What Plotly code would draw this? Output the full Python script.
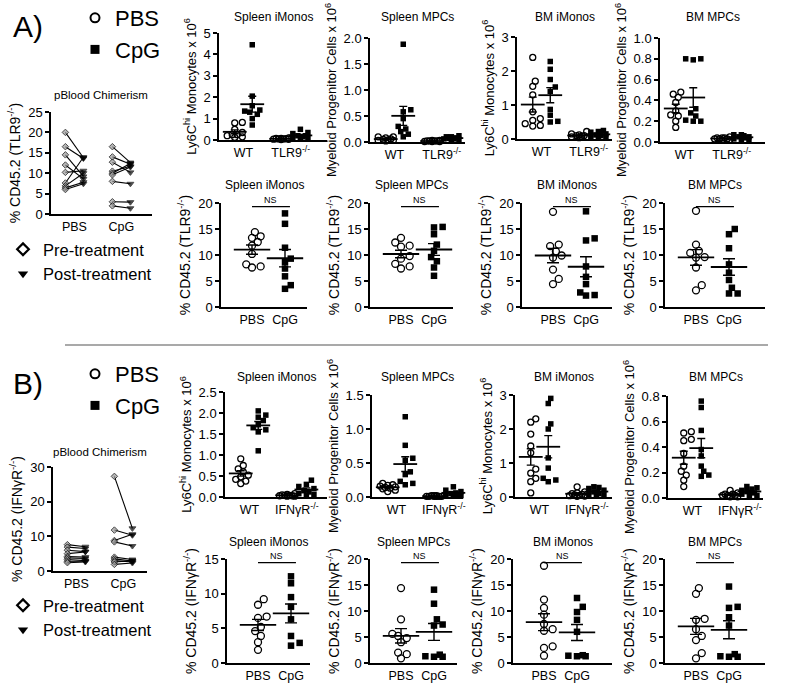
import numpy as np
import plotly.graph_objects as go

# ----------------------------- DATA -----------------------------
# Panel A (TLR9-/- chimeras) - absolute numbers (x 10^6)
A_spI_wt_pbs = [0.82, 0.80, 0.50, 0.35, 0.25, 0.20, 0.15, 0.12, 0.25]
A_spI_wt_cpg = [4.45, 2.05, 1.60, 1.40, 1.30, 1.20, 1.00, 0.70, 1.35]
A_spI_ko_pbs = [0.10, 0.08, 0.06, 0.05, 0.04, 0.03, 0.05, 0.07, 0.02]
A_spI_ko_cpg = [0.50, 0.35, 0.30, 0.20, 0.15, 0.10, 0.08, 0.05, 0.20]

A_spM_wt_pbs = [0.10, 0.10, 0.08, 0.05, 0.04, 0.03, 0.02, 0.06, 0.03]
A_spM_wt_cpg = [1.88, 0.62, 0.58, 0.45, 0.30, 0.25, 0.20, 0.15, 0.10]
A_spM_ko_pbs = [0.03, 0.02, 0.02, 0.01, 0.01, 0.02, 0.03, 0.01, 0.02]
A_spM_ko_cpg = [0.12, 0.10, 0.10, 0.08, 0.07, 0.06, 0.05, 0.04, 0.06]

A_bmI_wt_pbs = [2.40, 1.70, 1.55, 1.30, 0.80, 0.60, 0.55, 0.45, 0.40, 0.38]
A_bmI_wt_cpg = [2.28, 2.05, 1.75, 1.53, 1.40, 0.87, 0.70, 0.52, 0.50]
A_bmI_ko_pbs = [0.22, 0.15, 0.12, 0.10, 0.08, 0.06, 0.05, 0.04, 0.10]
A_bmI_ko_cpg = [0.25, 0.22, 0.20, 0.15, 0.12, 0.08, 0.06, 0.05, 0.10]

A_bmM_wt_pbs = [0.48, 0.46, 0.43, 0.38, 0.30, 0.26, 0.25, 0.20, 0.14]
A_bmM_wt_cpg = [0.80, 0.80, 0.79, 0.32, 0.28, 0.25, 0.21, 0.20, 0.20]
A_bmM_ko_pbs = [0.05, 0.04, 0.04, 0.03, 0.03, 0.02, 0.02, 0.03, 0.04]
A_bmM_ko_cpg = [0.07, 0.07, 0.06, 0.05, 0.04, 0.03, 0.02, 0.02, 0.05]

# Panel A - % CD45.2 chimerism
A_cSpI_pbs = [14.4, 13.6, 13.3, 12.5, 11.8, 10.2, 8.2, 7.8, 7.6]
A_cSpI_cpg = [18.0, 16.0, 11.4, 9.3, 8.7, 7.4, 5.9, 4.2, 3.5]
A_cSpM_pbs = [13.3, 12.4, 11.8, 11.6, 9.8, 9.3, 8.3, 7.8, 7.4]
A_cSpM_cpg = [15.4, 15.3, 14.0, 12.0, 10.8, 9.6, 8.8, 7.6, 6.0]
A_cBmI_pbs = [18.3, 12.0, 11.7, 10.7, 9.9, 9.5, 7.2, 5.4, 4.4]
A_cBmI_cpg = [18.4, 13.2, 12.8, 7.8, 5.8, 4.4, 2.8, 2.3, 2.2]
A_cBmM_pbs = [18.5, 12.0, 10.8, 10.4, 9.6, 9.5, 7.6, 4.2, 3.2]
A_cBmM_cpg = [15.0, 14.0, 11.3, 8.2, 6.6, 5.2, 3.7, 2.6, 2.6]

# Panel A - peripheral blood chimerism (pre -> post)
A_pb_pbs_pre = [20.0, 16.5, 14.5, 12.0, 10.2, 7.6, 6.9, 6.4, 6.0]
A_pb_pbs_post = [13.8, 13.6, 9.2, 8.6, 10.6, 13.9, 10.0, 7.8, 7.4]
A_pb_cpg_pre = [16.5, 14.0, 12.7, 10.5, 10.0, 9.6, 8.0, 3.0, 2.0]
A_pb_cpg_post = [12.6, 12.2, 10.2, 11.7, 12.4, 11.5, 7.4, 2.9, 1.4]

# Panel B (IFNgR-/- chimeras) - absolute numbers (x 10^6)
B_spI_wt_pbs = [0.91, 0.75, 0.67, 0.60, 0.52, 0.48, 0.42, 0.38, 0.32]
B_spI_wt_cpg = [2.05, 1.95, 1.90, 1.82, 1.72, 1.65, 1.60, 1.55, 1.10]
B_spI_ko_pbs = [0.08, 0.06, 0.05, 0.04, 0.04, 0.03, 0.03, 0.02, 0.02]
B_spI_ko_cpg = [0.40, 0.30, 0.25, 0.20, 0.15, 0.12, 0.08, 0.06, 0.04]

B_spM_wt_pbs = [0.20, 0.18, 0.17, 0.16, 0.15, 0.14, 0.13, 0.12, 0.10, 0.08]
B_spM_wt_cpg = [1.18, 0.76, 0.57, 0.54, 0.37, 0.33, 0.23, 0.20, 0.18]
B_spM_ko_pbs = [0.02, 0.02, 0.01, 0.01, 0.01, 0.02, 0.01, 0.01, 0.01]
B_spM_ko_cpg = [0.15, 0.10, 0.08, 0.06, 0.05, 0.04, 0.03, 0.02, 0.02]

B_bmI_wt_pbs = [2.30, 2.20, 1.85, 1.50, 1.30, 0.82, 0.70, 0.55, 0.45, 0.12]
B_bmI_wt_cpg = [2.90, 2.75, 2.15, 2.00, 1.15, 0.85, 0.55, 0.50, 0.45]
B_bmI_ko_pbs = [0.30, 0.15, 0.12, 0.10, 0.08, 0.06, 0.05, 0.04, 0.03, 0.02]
B_bmI_ko_cpg = [0.30, 0.28, 0.25, 0.20, 0.15, 0.10, 0.08, 0.05, 0.03]

B_bmM_wt_pbs = [0.52, 0.51, 0.46, 0.45, 0.35, 0.25, 0.21, 0.18, 0.14, 0.09]
B_bmM_wt_cpg = [0.76, 0.71, 0.53, 0.38, 0.33, 0.25, 0.21, 0.18, 0.17]
B_bmM_ko_pbs = [0.06, 0.04, 0.03, 0.03, 0.02, 0.02, 0.02, 0.01, 0.01]
B_bmM_ko_cpg = [0.09, 0.08, 0.07, 0.06, 0.05, 0.04, 0.03, 0.02, 0.02]

# Panel B - % CD45.2 chimerism
B_cSpI_pbs = [9.2, 8.4, 6.7, 6.5, 5.2, 4.6, 3.9, 3.0, 1.9]
B_cSpI_cpg = [12.5, 11.5, 9.5, 8.1, 6.3, 3.9, 2.9, 2.5]
B_cSpM_pbs = [14.4, 8.4, 5.6, 5.2, 4.8, 4.0, 2.0, 1.7, 0.9]
B_cSpM_cpg = [14.1, 11.4, 8.4, 7.4, 7.2, 1.6, 1.3, 1.2, 1.2]
B_cBmI_pbs = [18.7, 12.2, 10.6, 9.3, 7.5, 6.5, 6.2, 3.2, 2.9, 1.4]
B_cBmI_cpg = [12.5, 10.8, 9.8, 8.3, 6.0, 1.4, 1.3, 1.3, 1.5]
B_cBmM_pbs = [14.4, 13.3, 8.5, 8.3, 6.5, 5.2, 4.4, 1.9, 0.9]
B_cBmM_cpg = [14.7, 10.8, 10.6, 8.8, 7.2, 1.7, 1.3, 1.2, 1.2]

# Panel B - peripheral blood chimerism (pre -> post)
B_pb_pbs_pre = [7.6, 6.9, 6.0, 5.0, 4.2, 3.8, 3.3, 2.8, 2.4]
B_pb_pbs_post = [7.0, 6.5, 5.6, 5.5, 4.0, 3.6, 3.0, 2.8, 2.6]
B_pb_cpg_pre = [27.3, 11.8, 8.8, 8.4, 4.0, 3.5, 3.0, 2.6, 1.9]
B_pb_cpg_post = [12.3, 10.3, 10.6, 7.2, 3.3, 2.9, 2.6, 3.0, 2.3]

# Labels
TREAT = ["PBS", "CpG"]
KO_A = "TLR9<sup>-/-</sup>"
KO_B = "IFNγR<sup>-/-</sup>"
LY = "Ly6C<sup>hi</sup> Monocytes x 10<sup>6</sup>"
MP = "Myeloid Progenitor Cells x 10<sup>6</sup>"
CD_A = "% CD45.2 (TLR9<sup>-/-</sup>)"
CD_B = "% CD45.2 (IFNγR<sup>-/-</sup>)"

# ----------------------------- LAYOUT -----------------------------
W, H = 800, 687
FONT = "Arial, Liberation Sans, sans-serif"
fig = go.Figure()
layout = dict(width=W, height=H, margin=dict(l=0, r=0, t=0, b=0, autoexpand=False),
              paper_bgcolor="white", plot_bgcolor="white",
              font=dict(family=FONT, color="black"), showlegend=True)
annotations, shapes = [], []


def px_x(v):
    return v / W


def px_y(v):
    return 1 - v / H


def swarm(vals, ppy, ppx, d, step=0.36, kmax=3, thr=0.8):
    vals = np.asarray(vals, float)
    order = np.argsort(vals)
    cands = [0.0]
    for k in range(1, kmax + 1):
        cands += [k * step * d, -k * step * d]
    placed, offs = [], np.zeros(len(vals))
    for i in order:
        y = vals[i] * ppy
        best, best_d = None, -1.0
        for c in cands:
            md = min([np.hypot(c - px, y - py) for px, py in placed] or [1e9])
            if md >= thr * d:
                best = c
                break
            if md > best_d:
                best, best_d = c, md
        placed.append((best, y))
        offs[i] = best / ppx
    return offs


def make_axes(i, box, ymax, yticks, fmt, xr, xtv, xtt, ytitle, ytfs):
    x0, x1, yt, yb = box
    xa = "xaxis" if i == 1 else f"xaxis{i}"
    ya = "yaxis" if i == 1 else f"yaxis{i}"
    xr_ = "x" if i == 1 else f"x{i}"
    yr_ = "y" if i == 1 else f"y{i}"
    layout[xa] = dict(domain=[px_x(x0), px_x(x1)], range=xr, anchor=yr_,
                      showline=True, linecolor="black", linewidth=1.5,
                      showgrid=False, zeroline=False, ticks="",
                      tickvals=xtv, ticktext=xtt,
                      tickfont=dict(size=12.5, family=FONT, color="black"),
                      fixedrange=True)
    yd = dict(domain=[px_y(yb), px_y(yt)], range=[0, ymax], anchor=xr_,
              showline=True, linecolor="black", linewidth=1.5,
              showgrid=False, zeroline=False, ticks="outside", ticklen=4,
              tickwidth=1.5, tickcolor="black", tickvals=yticks,
              tickfont=dict(size=13, family=FONT, color="black"),
              title=dict(text=ytitle, font=dict(size=ytfs, family=FONT, color="black"),
                         standoff=4),
              fixedrange=True)
    if fmt:
        yd["tickformat"] = fmt
    layout[ya] = yd
    return xr_, yr_


def add_title(text, box, ty, size=12):
    x0, x1, _, _ = box
    annotations.append(dict(text=text, x=px_x((x0 + x1) / 2), y=px_y(ty),
                            xref="paper", yref="paper", showarrow=False,
                            xanchor="center", yanchor="middle",
                            font=dict(size=size, family=FONT, color="black")))


def add_group(xr_, yr_, vals, xc, box, ymax, xrange_, pbs, msize, mean_w, cap_w):
    x0, x1, yt, yb = box
    ppy = (yb - yt) / ymax
    ppx = (x1 - x0) / (xrange_[1] - xrange_[0])
    offs = swarm(vals, ppy, ppx, msize + 1)
    if pbs:
        mk = dict(symbol="circle-open", size=msize, color="black", line=dict(width=1.3, color="black"))
    else:
        mk = dict(symbol="square", size=msize - 0.5, color="black", line=dict(width=0))
    fig.add_trace(go.Scatter(x=xc + offs, y=vals, mode="markers", marker=mk,
                             xaxis=xr_, yaxis=yr_, showlegend=False, cliponaxis=False,
                             hoverinfo="y"))
    v = np.asarray(vals, float)
    mean = v.mean()
    sem = v.std(ddof=1) / np.sqrt(len(v))
    fig.add_trace(go.Scatter(x=[xc], y=[mean], mode="markers",
                             marker=dict(symbol="line-ew", size=mean_w, color="black",
                                         line=dict(width=1.8, color="black")),
                             error_y=dict(type="data", array=[sem], visible=True,
                                          color="black", thickness=1.4, width=cap_w),
                             xaxis=xr_, yaxis=yr_, showlegend=False, cliponaxis=False,
                             hoverinfo="skip"))


# ---- Top (grouped WT / KO) panels ----
TOP_UNIT = 17.5          # px per category unit
TOP_POS = [0.9, 1.9, 3.55, 4.65]
top_panels = [
    ((219, 327, 33, 140), "Spleen iMonos", 17, [A_spI_wt_pbs, A_spI_wt_cpg, A_spI_ko_pbs, A_spI_ko_cpg], [0, 1, 2, 3, 4, 5], None, KO_A, LY),
    ((370, 465, 38, 142), "Spleen MPCs", 17, [A_spM_wt_pbs, A_spM_wt_cpg, A_spM_ko_pbs, A_spM_ko_cpg], [0, 0.5, 1.0, 1.5, 2.0], ".1f", KO_A, MP),
    ((517, 612, 37, 139), "BM iMonos", 17, [A_bmI_wt_pbs, A_bmI_wt_cpg, A_bmI_ko_pbs, A_bmI_ko_cpg], [0, 1, 2, 3], None, KO_A, LY),
    ((660, 765, 38, 142), "BM MPCs", 17, [A_bmM_wt_pbs, A_bmM_wt_cpg, A_bmM_ko_pbs, A_bmM_ko_cpg], [0, 0.2, 0.4, 0.6, 0.8, 1.0], ".1f", KO_A, MP),
    ((225, 327, 392, 497), "Spleen iMonos", 377, [B_spI_wt_pbs, B_spI_wt_cpg, B_spI_ko_pbs, B_spI_ko_cpg], [0, 0.5, 1.0, 1.5, 2.0, 2.5], ".1f", KO_B, LY),
    ((372, 463, 395, 497), "Spleen MPCs", 377, [B_spM_wt_pbs, B_spM_wt_cpg, B_spM_ko_pbs, B_spM_ko_cpg], [0, 0.5, 1.0, 1.5], ".1f", KO_B, MP),
    ((515, 612, 395, 497), "BM iMonos", 377, [B_bmI_wt_pbs, B_bmI_wt_cpg, B_bmI_ko_pbs, B_bmI_ko_cpg], [0, 1, 2, 3], None, KO_B, LY),
    ((668, 763, 396, 498), "BM MPCs", 377, [B_bmM_wt_pbs, B_bmM_wt_cpg, B_bmM_ko_pbs, B_bmM_ko_cpg], [0, 0.2, 0.4, 0.6, 0.8], ".1f", KO_B, MP),
]

# ---- Bottom (PBS vs CpG chimerism) panels ----
CMP_UNIT = 33.0          # px per category unit
CMP_FIRST = 31.0         # px from the y axis to the first category
cmp_panels = [
    ((221, 307, 203, 307), "Spleen iMonos", 185, A_cSpI_pbs, A_cSpI_cpg, [0, 5, 10, 15, 20], CD_A),
    ((370, 453, 203, 307), "Spleen MPCs", 185, A_cSpM_pbs, A_cSpM_cpg, [0, 5, 10, 15, 20], CD_A),
    ((522, 612, 203, 307), "BM iMonos", 185, A_cBmI_pbs, A_cBmI_cpg, [0, 5, 10, 15, 20], CD_A),
    ((665, 765, 203, 307), "BM MPCs", 185, A_cBmM_pbs, A_cBmM_cpg, [0, 5, 10, 15, 20], CD_A),
    ((227, 310, 559, 663), "Spleen iMonos", 542, B_cSpI_pbs, B_cSpI_cpg, [0, 5, 10, 15], CD_B),
    ((370, 457, 559, 663), "Spleen MPCs", 542, B_cSpM_pbs, B_cSpM_cpg, [0, 5, 10, 15, 20], CD_B),
    ((513, 612, 559, 663), "BM iMonos", 542, B_cBmI_pbs, B_cBmI_cpg, [0, 5, 10, 15, 20], CD_B),
    ((665, 765, 559, 663), "BM MPCs", 542, B_cBmM_pbs, B_cBmM_cpg, [0, 5, 10, 15, 20], CD_B),
]

# ---- Peripheral blood panels ----
PB_UNIT = 20.0
PB_POS = [(0.72, 1.62), (3.07, 3.97)]
pb_panels = [
    ((51, 152, 112, 214), 95, A_pb_pbs_pre, A_pb_pbs_post, A_pb_cpg_pre, A_pb_cpg_post, [0, 5, 10, 15, 20, 25], CD_A),
    ((53, 147, 467, 571), 452, B_pb_pbs_pre, B_pb_pbs_post, B_pb_cpg_pre, B_pb_cpg_post, [0, 10, 20, 30], CD_B),
]

ax_i = 1
for box, title, ty, groups, yt, fmt, ko, ytitle in top_panels:
    ymax = yt[-1]
    xr = [0, (box[1] - box[0]) / TOP_UNIT]
    xr_, yr_ = make_axes(ax_i, box, ymax, yt, fmt, xr,
                         [(TOP_POS[0] + TOP_POS[1]) / 2, (TOP_POS[2] + TOP_POS[3]) / 2],
                         ["WT", ko], ytitle, 13)
    for gi, vals in enumerate(groups):
        add_group(xr_, yr_, vals, TOP_POS[gi], box, ymax, xr, gi % 2 == 0, 6, 17, 4)
    add_title(title, box, ty)
    ax_i += 1

for box, title, ty, pbs, cpg, yt, ytitle in cmp_panels:
    ymax = yt[-1]
    L = box[1] - box[0]
    xr = [1 - CMP_FIRST / CMP_UNIT, 1 + (L - CMP_FIRST) / CMP_UNIT]
    xr_, yr_ = make_axes(ax_i, box, ymax, yt, None, xr, [1, 2], TREAT, ytitle, 14)
    add_group(xr_, yr_, pbs, 1, box, ymax, xr, True, 7, 26, 6)
    add_group(xr_, yr_, cpg, 2, box, ymax, xr, False, 7, 26, 6)
    add_title(title, box, ty)
    ybar = 0.965 * ymax
    shapes.append(dict(type="line", xref=xr_, yref=yr_, x0=1.0, x1=2.15, y0=ybar, y1=ybar,
                       line=dict(color="black", width=1.3)))
    annotations.append(dict(text="NS", xref=xr_, yref=yr_, x=1.575, y=ybar, yshift=7,
                            showarrow=False, font=dict(size=9, family=FONT, color="black")))
    ax_i += 1

for box, ty, pbs_pre, pbs_post, cpg_pre, cpg_post, yt, ytitle in pb_panels:
    ymax = yt[-1]
    xr = [0, (box[1] - box[0]) / PB_UNIT]
    xr_, yr_ = make_axes(ax_i, box, ymax, yt, None, xr,
                         [sum(PB_POS[0]) / 2, sum(PB_POS[1]) / 2], TREAT, ytitle, 14)
    for (pre, post), (xa, xb) in zip([(pbs_pre, pbs_post), (cpg_pre, cpg_post)], PB_POS):
        for a, b in zip(pre, post):
            fig.add_trace(go.Scatter(x=[xa, xb], y=[a, b], mode="lines+markers",
                                     line=dict(color="black", width=1.1),
                                     marker=dict(symbol=["diamond", "triangle-down"], size=[5, 6],
                                                 color=["#9a9a9a", "black"],
                                                 line=dict(width=1, color="black")),
                                     xaxis=xr_, yaxis=yr_, showlegend=False, cliponaxis=False))
    add_title("pBlood Chimerism", box, ty, size=11.5)
    ax_i += 1

# ---- Legends ----
leg_items = [
    ("legend", "PBS", dict(symbol="circle-open", size=9, color="black", line=dict(width=2))),
    ("legend", "CpG", dict(symbol="square", size=9, color="black")),
    ("legend2", "Pre-treatment", dict(symbol="diamond-open", size=9, color="black", line=dict(width=2.2))),
    ("legend2", "Post-treatment", dict(symbol="triangle-down", size=9, color="black")),
    ("legend3", "PBS", dict(symbol="circle-open", size=9, color="black", line=dict(width=2))),
    ("legend3", "CpG", dict(symbol="square", size=9, color="black")),
    ("legend4", "Pre-treatment", dict(symbol="diamond-open", size=9, color="black", line=dict(width=2.2))),
    ("legend4", "Post-treatment", dict(symbol="triangle-down", size=9, color="black")),
]
for lg, name, mk in leg_items:
    fig.add_trace(go.Scatter(x=[None], y=[None], mode="markers", marker=mk, name=name,
                             legend=lg, showlegend=True))

big = dict(size=22, family=FONT, color="black")
mid = dict(size=16.5, family=FONT, color="black")
layout["legend"] = dict(x=px_x(75), y=px_y(-3), xanchor="left", yanchor="top", font=big,
                        bgcolor="rgba(0,0,0,0)", tracegroupgap=0, itemclick=False)
layout["legend2"] = dict(x=px_x(3), y=px_y(232), xanchor="left", yanchor="top", font=mid,
                         bgcolor="rgba(0,0,0,0)", tracegroupgap=0, itemclick=False)
layout["legend3"] = dict(x=px_x(75), y=px_y(353), xanchor="left", yanchor="top", font=big,
                         bgcolor="rgba(0,0,0,0)", tracegroupgap=0, itemclick=False)
layout["legend4"] = dict(x=px_x(3), y=px_y(588), xanchor="left", yanchor="top", font=mid,
                         bgcolor="rgba(0,0,0,0)", tracegroupgap=0, itemclick=False)

# ---- Panel letters & separator ----
for letter, ly in [("A)", 27), ("B)", 383)]:
    annotations.append(dict(text=letter, x=px_x(28), y=px_y(ly), xref="paper", yref="paper",
                            showarrow=False, xanchor="center", yanchor="middle",
                            font=dict(size=30, family=FONT, color="black")))
shapes.append(dict(type="line", xref="paper", yref="paper", x0=px_x(65), x1=px_x(768),
                   y0=px_y(345), y1=px_y(345), line=dict(color="#555555", width=1.2)))

layout["annotations"] = annotations
layout["shapes"] = shapes
fig.update_layout(**layout)
fig.write_html("out.html", config={"displayModeBar": False},
               post_script="document.body.style.margin='0';")
